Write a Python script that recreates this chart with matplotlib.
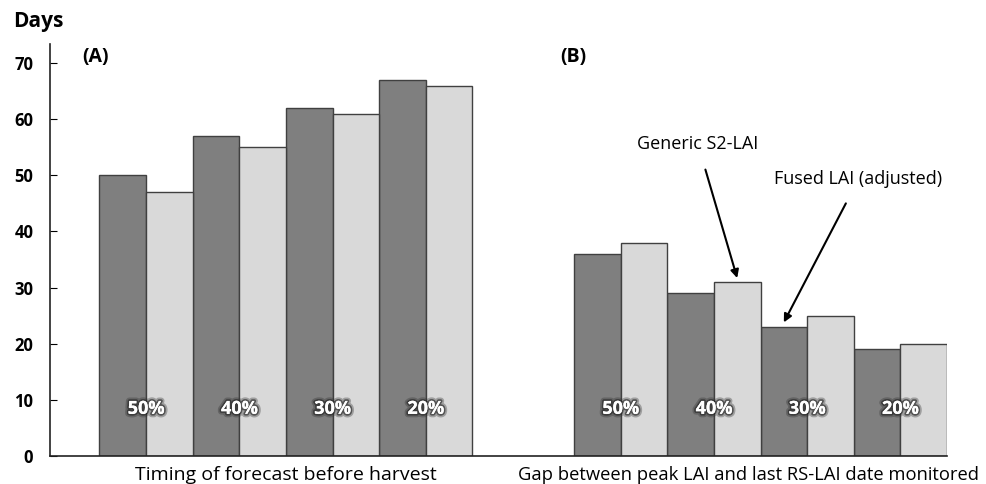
import numpy as np
import matplotlib.pyplot as plt
import matplotlib.patheffects as pe

plt.rcParams['font.family'] = ['Open Sans', 'DejaVu Sans']

pct_labels = ["50%", "40%", "30%", "20%"]
timing_generic = [50, 57, 62, 67]
timing_fused = [47, 55, 61, 66]
gap_generic = [36, 29, 23, 19]
gap_fused = [38, 31, 25, 20]
group_titles = ["Timing of forecast before harvest",
                "Gap between peak LAI and last RS-LAI date monitored"]

W, H = 986, 484
fig = plt.figure(figsize=(W / 100, H / 100), dpi=100)
ax = fig.add_axes([50 / W, (H - 456) / H, (947 - 50) / W, (456 - 44) / H])

w = 0.5
xa = np.arange(4)
xb = np.arange(4) + 5.09
dark, light, edge = "#7f7f7f", "#d9d9d9", "#404040"

for xs, g, f in [(xa, timing_generic, timing_fused), (xb, gap_generic, gap_fused)]:
    ax.bar(xs - w / 2, g, w, color=dark, edgecolor=edge, linewidth=1)
    ax.bar(xs + w / 2, f, w, color=light, edgecolor=edge, linewidth=1)

shadow = [pe.withStroke(linewidth=5, foreground="#333333", alpha=0.35),
          pe.withStroke(linewidth=2.5, foreground="#222222", alpha=0.6),
          pe.Normal()]
for xs in (xa, xb):
    for x, lab in zip(xs, pct_labels):
        ax.text(x, 8.4, lab, ha="center", va="center", color="white",
                fontsize=13, fontweight="bold", path_effects=shadow)

ax.set_xlim(-1.03, 8.59)
ax.set_ylim(0, 73.4)
ax.set_yticks(range(0, 71, 10))
ax.set_xticks([])
for s in ("top", "right"):
    ax.spines[s].set_visible(False)
for s in ("left", "bottom"):
    ax.spines[s].set_color("#222222")
    ax.spines[s].set_linewidth(1.2)
ax.tick_params(axis="y", direction="in", length=5, labelsize=12, pad=12)
for t in ax.get_yticklabels():
    t.set_fontweight("bold")

ax.text(-0.54, 71, "(A)", fontsize=14, fontweight="bold", ha="center", va="center")
ax.text(xb[0] - 0.51, 71, "(B)", fontsize=14, fontweight="bold", ha="center", va="center")
fig.text(13 / W, 1 - 22 / H, "Days", fontsize=15, fontweight="bold", va="center")

ax.text(1.5, -3.3, group_titles[0], ha="center", va="center", fontsize=14, clip_on=False)
ax.text(xb[0] + 1.37, -3.3, group_titles[1], ha="center", va="center", fontsize=13.2,
        clip_on=False)

ax.annotate("Generic S2-LAI", xy=(xb[1] + w / 2, gap_fused[1] + 0.7),
            xytext=(xb[0] + 0.83, 55.5), ha="center", va="center", fontsize=13,
            arrowprops=dict(arrowstyle="-|>", color="black", lw=1.5,
                            mutation_scale=12, shrinkA=10, shrinkB=0))
ax.annotate("Fused LAI (adjusted)", xy=(xb[2] - w / 2, gap_generic[2] + 0.8),
            xytext=(xb[2] + 0.55, 49.3), ha="center", va="center", fontsize=13,
            arrowprops=dict(arrowstyle="-|>", color="black", lw=1.5,
                            mutation_scale=12, shrinkA=10, shrinkB=0))

fig.savefig("out.png", dpi=100)
